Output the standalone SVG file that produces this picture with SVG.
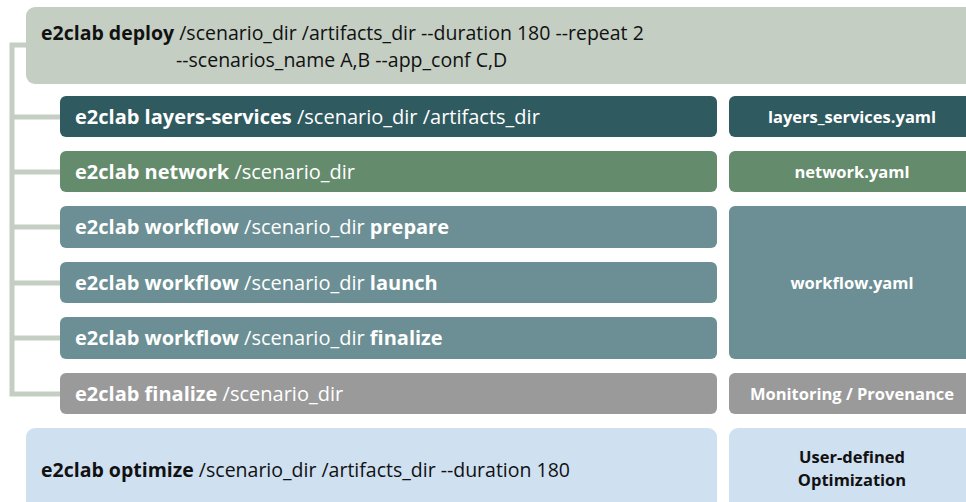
<svg xmlns="http://www.w3.org/2000/svg" width="966" height="502" viewBox="0 0 966 502">
<style>
text{font-family:"Open Sans","Noto Sans","Liberation Sans",sans-serif}
.cmd{font-size:20px;fill:#ffffff}
.top{font-size:19.5px;fill:#111111}
.b{font-weight:700}
.side{font-size:16.5px;font-weight:700;fill:#ffffff;text-anchor:middle}
.side.dark{fill:#111111}
.conn{fill:none;stroke:#c4cec3;stroke-width:5}
</style>
<rect width="966" height="502" fill="#ffffff"/>
<g id="connectors">
<path class="conn" d="M26,45 H12 V394 H60"/>
<path class="conn" d="M12,117 H60 M12,172 H60 M12,227 H60 M12,283 H60 M12,338 H60"/>
</g>
<g id="deploy">
<rect x="26" y="7" width="960" height="77" rx="9" fill="#c4cec3"/>
<text class="top" x="41" y="40"><tspan class="b">e2clab deploy</tspan> /scenario_dir /artifacts_dir --duration 180 --repeat 2</text>
<text class="top" x="176" y="67">--scenarios_name A,B --app_conf C,D</text>
</g>
<g id="layers">
<rect x="60" y="96" width="657" height="41" rx="6" fill="#2f5a5f"/>
<text class="cmd" x="75" y="123.5"><tspan class="b">e2clab layers-services</tspan> /scenario_dir /artifacts_dir</text>
</g>
<g id="layers-yaml">
<rect x="729" y="96" width="250" height="41" rx="6" fill="#2f5a5f"/>
<text class="side" x="852" y="122.5">layers_services.yaml</text>
</g>
<g id="network">
<rect x="60" y="151" width="657" height="41" rx="6" fill="#648b6c"/>
<text class="cmd" x="75" y="178.5"><tspan class="b">e2clab network</tspan> /scenario_dir</text>
</g>
<g id="network-yaml">
<rect x="729" y="151" width="250" height="41" rx="6" fill="#648b6c"/>
<text class="side" x="852" y="177.5">network.yaml</text>
</g>
<g id="wf-prepare">
<rect x="60" y="206" width="657" height="42" rx="6" fill="#6b8f94"/>
<text class="cmd" x="75" y="234"><tspan class="b">e2clab workflow</tspan> /scenario_dir <tspan class="b">prepare</tspan></text>
</g>
<g id="wf-launch">
<rect x="60" y="262" width="657" height="41" rx="6" fill="#6b8f94"/>
<text class="cmd" x="75" y="289.5"><tspan class="b">e2clab workflow</tspan> /scenario_dir <tspan class="b">launch</tspan></text>
</g>
<g id="wf-finalize">
<rect x="60" y="317" width="657" height="42" rx="6" fill="#6b8f94"/>
<text class="cmd" x="75" y="345"><tspan class="b">e2clab workflow</tspan> /scenario_dir <tspan class="b">finalize</tspan></text>
</g>
<g id="workflow-yaml">
<rect x="729" y="206" width="250" height="153" rx="6" fill="#6b8f94"/>
<text class="side" x="852" y="288.5">workflow.yaml</text>
</g>
<g id="finalize">
<rect x="60" y="373" width="657" height="41" rx="6" fill="#9a9a9a"/>
<text class="cmd" x="75" y="400.5"><tspan class="b">e2clab finalize</tspan> /scenario_dir</text>
</g>
<g id="monitoring">
<rect x="729" y="373" width="250" height="41" rx="6" fill="#9a9a9a"/>
<text class="side" x="852" y="399.5">Monitoring / Provenance</text>
</g>
<g id="optimize">
<rect x="26" y="428" width="691" height="82" rx="9" fill="#cfe0f1"/>
<text class="top" x="41" y="477"><tspan class="b">e2clab optimize</tspan> /scenario_dir /artifacts_dir --duration 180</text>
</g>
<g id="user-opt">
<rect x="729" y="428" width="250" height="82" rx="9" fill="#cfe0f1"/>
<text class="side dark" x="852" y="463">User-defined</text>
<text class="side dark" x="852" y="486">Optimization</text>
</g>
</svg>
